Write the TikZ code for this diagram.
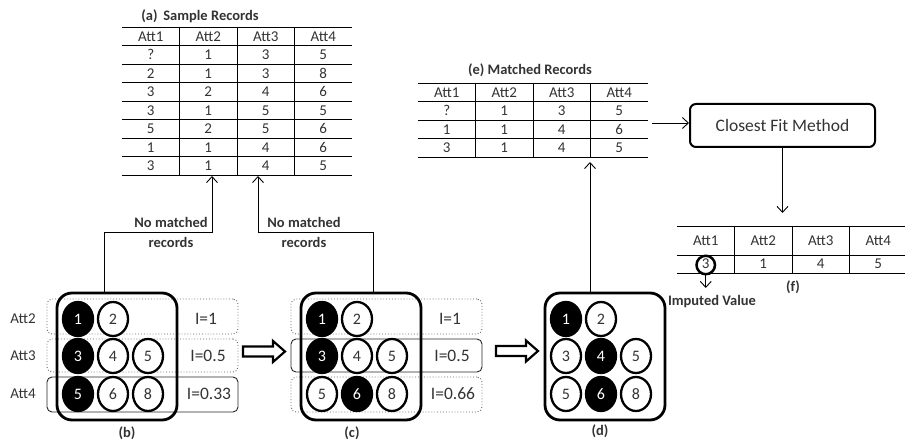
\documentclass[tikz,border=0pt]{standalone}
\usepackage{fontspec}
\setmainfont{Carlito}
\usetikzlibrary{shapes.geometric,arrows.meta,calc}
\begin{document}
\begin{tikzpicture}[x=1pt,y=-1pt,
  txt/.style={text=black!80, inner sep=0},
  tab/.style={txt, font=\fontsize{15}{15}\selectfont},
  lbl/.style={txt, font=\fontsize{14.5}{20}\bfseries\selectfont, align=center},
  cir/.style={ellipse, draw, line width=2.3, minimum width=30, minimum height=34, inner sep=0, font=\fontsize{16}{16}\selectfont},
  blk/.style={cir, fill=black, text=white},
  wht/.style={cir, fill=white, text=black!80},
  bigbox/.style={draw, line width=2.8, rounded corners=15, minimum width=120, minimum height=127, inner sep=0},
  dotrow/.style={draw=black!60, dotted, line width=0.9, rounded corners=5, minimum width=191, inner sep=0},
  solrow/.style={draw=black!85, line width=0.9, rounded corners=5, minimum width=191, inner sep=0},
  ival/.style={txt, font=\fontsize{17.5}{17.5}\selectfont},
  conn/.style={line width=0.9, -{Straight Barb[length=6,width=11]}},
  tline/.style={line width=0.8},
  barrow/.style={line width=2.2, line join=miter, fill=white}
]
\useasboundingbox (0,0) rectangle (905,443);

% ---------- Table (a)
\node[lbl] (titA) at (200,16) {(a)\, Sample Records};
\node[minimum width=230, minimum height=148, inner sep=0] (tabA) at (237,101) {};
\foreach \i in {0,...,8} \draw[tline] (122,27+18.5*\i) -- (352,27+18.5*\i);
\foreach \x in {179.5,237,294.5} \draw[tline] (\x,27) -- (\x,175);
\foreach \row [count=\i from 0] in {{Att1,Att2,Att3,Att4},{?,1,3,5},{2,1,3,8},{3,2,4,6},{3,1,5,5},{5,2,5,6},{1,1,4,6},{3,1,4,5}} {
  \foreach \cell [count=\j from 0] in \row {
    \node[tab] (A-\i-\j) at (150.75+57.5*\j, 36.25+18.5*\i) {\cell};
  }
}

% ---------- Table (e)
\node[lbl] (titE) at (530,70) {(e) Matched Records};
\node[minimum width=230, minimum height=74, inner sep=0] (tabE) at (533,120) {};
\foreach \i in {0,...,4} \draw[tline] (418,83+18.5*\i) -- (648,83+18.5*\i);
\foreach \x in {475.5,533,590.5} \draw[tline] (\x,83) -- (\x,157);
\foreach \row [count=\i from 0] in {{Att1,Att2,Att3,Att4},{?,1,3,5},{1,1,4,6},{3,1,4,5}} {
  \foreach \cell [count=\j from 0] in \row {
    \node[tab] (E-\i-\j) at (446.75+57.5*\j, 92.25+18.5*\i) {\cell};
  }
}

% ---------- Closest fit
\node[draw, line width=2, rounded corners=6, minimum width=185, minimum height=43, inner sep=0,
      txt, font=\fontsize{17.5}{17.5}\selectfont] (cf) at (782.5,125.5) {Closest Fit Method};
\coordinate (eR) at (652,123);
\draw[conn] (eR) -- (eR -| cf.west);

% ---------- Table (f)
\draw[tline] (677,226) -- (905,226);
\draw[tline] (677,255) -- (905,255);
\draw[tline] (677,273) -- (905,273);
\foreach \x in {734.5,792,849.5} \draw[tline] (\x,226) -- (\x,273);
\foreach \c [count=\j from 0] in {Att1,Att2,Att3,Att4} \node[tab] (F-0-\j) at (705.75+57.5*\j,240.5) {\c};
\foreach \c [count=\j from 0] in {3,1,4,5} \node[tab] (F-1-\j) at (705.75+57.5*\j,264) {\c};
\node[circle, draw, line width=2.5, minimum size=18.5, inner sep=0] (imp) at (705.75,265) {};
\coordinate (fIn) at (782.5,213);
\draw[conn] (cf.south) -- (fIn);
\coordinate (impT) at (705.75,288);
\draw[conn] (imp.south) -- (impT);
\node[lbl] (impL) at (712,302) {Imputed Value};
\node[lbl] (labF) at (793,287) {(f)};

% ---------- Panel (b)
\node[dotrow, minimum height=35] (rB1) at (142.5,316.5) {};
\node[dotrow, minimum height=33] (rB2) at (142.5,355.5) {};
\node[solrow, minimum height=35] (rB3) at (142.5,394.5) {};
\node[bigbox] (bB) at (117,356.5) {};
\node[blk] (b11) at (78,319) {1};
\node[wht] (b12) at (113,319) {2};
\node[blk] (b21) at (78,356) {3};
\node[wht] (b22) at (113,356) {4};
\node[wht] (b23) at (148,356) {5};
\node[blk] (b31) at (78,394) {5};
\node[wht] (b32) at (113,394) {6};
\node[wht] (b33) at (148,394) {8};
\node[tab, anchor=east] (att2) at (36,319) {Att2};
\node[tab, anchor=east] (att3) at (36,356) {Att3};
\node[tab, anchor=east] (att4) at (36,394) {Att4};
\node[ival] (iB1) at (206,319) {I=1};
\node[ival] (iB2) at (208,356) {I=0.5};
\node[ival] (iB3) at (209,394) {I=0.33};
\node[lbl] (labB) at (127,433) {(b)};

% ---------- Panel (c)
\node[dotrow, minimum height=35] (rC1) at (386.5,316.5) {};
\node[solrow, minimum height=33] (rC2) at (386.5,355.5) {};
\node[dotrow, minimum height=35] (rC3) at (386.5,394.5) {};
\node[bigbox] (bC) at (361,356.5) {};
\node[blk] (c11) at (322,319) {1};
\node[wht] (c12) at (357,319) {2};
\node[blk] (c21) at (322,356) {3};
\node[wht] (c22) at (357,356) {4};
\node[wht] (c23) at (392,356) {5};
\node[wht] (c31) at (322,394) {5};
\node[blk] (c32) at (357,394) {6};
\node[wht] (c33) at (392,394) {8};
\node[ival] (iC1) at (450,319) {I=1};
\node[ival] (iC2) at (452,356) {I=0.5};
\node[ival] (iC3) at (453,394) {I=0.66};
\node[lbl] (labC) at (352,433) {(c)};

% ---------- Panel (d)
\node[bigbox] (bD) at (605,356.5) {};
\node[blk] (d11) at (566,319) {1};
\node[wht] (d12) at (601,319) {2};
\node[wht] (d21) at (566,356) {3};
\node[blk] (d22) at (601,356) {4};
\node[wht] (d23) at (636,356) {5};
\node[wht] (d31) at (566,394) {5};
\node[blk] (d32) at (601,394) {6};
\node[wht] (d33) at (636,394) {8};
\node[lbl] (labD) at (600,431) {(d)};

% ---------- Block arrows
\draw[barrow] (243,346.5) -- (273,346.5) -- (273,341) -- (285,351.5) -- (273,362) -- (273,356.5) -- (243,356.5) -- cycle;
\draw[barrow] (496,346) -- (526,346) -- (526,340.5) -- (538,351) -- (526,361.5) -- (526,356) -- (496,356) -- cycle;

% ---------- Connectors to tables
\coordinate (bTop) at (104,293);
\coordinate (aIn1) at (212,176);
\draw[conn] (bTop) -- (bTop |- 0,232) -| (aIn1);
\node[lbl] (nm1) at (171,232) {No matched\\records};
\coordinate (cTop) at (373,293);
\coordinate (aIn2) at (258,176);
\draw[conn] (cTop) -- (cTop |- 0,232) -| (aIn2);
\node[lbl] (nm2) at (304,232) {No matched\\records};
\coordinate (dTop) at (590,293);
\coordinate (eIn) at (590,162);
\draw[conn] (dTop) -- (eIn);
\end{tikzpicture}
\end{document}
